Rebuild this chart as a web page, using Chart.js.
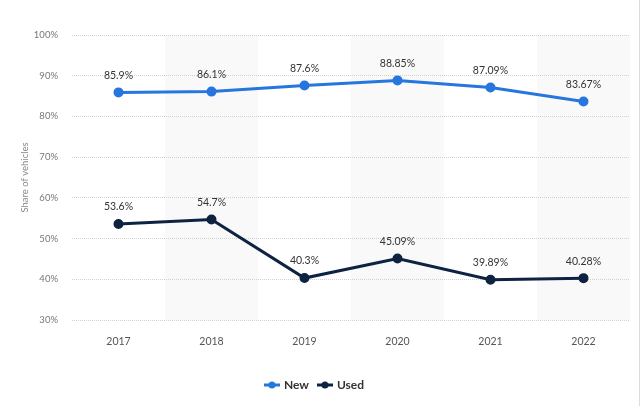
<!DOCTYPE html>
<html>
<head>
<meta charset="utf-8">
<script src="https://cdn.jsdelivr.net/npm/chart.js@4"></script>
<style>
  html, body { margin: 0; padding: 0; background: #fff; }
  #wrap { width: 639px; height: 406px; border-right: 1px solid #dcdcdc; }
</style>
</head>
<body>
<div id="wrap"><canvas id="lineChart" width="639" height="406"></canvas></div>
<script>
const years = ['2017', '2018', '2019', '2020', '2021', '2022'];
const newShare = [85.9, 86.1, 87.6, 88.85, 87.09, 83.67];
const usedShare = [53.6, 54.7, 40.3, 45.09, 39.89, 40.28];
const newLabels = ['85.9%', '86.1%', '87.6%', '88.85%', '87.09%', '83.67%'];
const usedLabels = ['53.6%', '54.7%', '40.3%', '45.09%', '39.89%', '40.28%'];

const FONT = 'Lato, "Open Sans", sans-serif';
const BLUE = '#2776de';
const NAVY = '#0e2341';

// little line-with-dot marker for the legend
function legendMarker(color) {
    const c = document.createElement('canvas');
    c.width = 16; c.height = 8;
    const g = c.getContext('2d');
    g.strokeStyle = color;
    g.lineWidth = 3;
    g.beginPath(); g.moveTo(0, 4); g.lineTo(16, 4); g.stroke();
    g.fillStyle = color;
    g.beginPath(); g.arc(8, 4, 3.5, 0, Math.PI * 2); g.fill();
    return c;
}

// shaded bands behind every second year
const bandsPlugin = {
    id: 'bands',
    beforeDraw(chart) {
        const { ctx, chartArea, scales: { x } } = chart;
        const step = x.width / years.length;
        ctx.save();
        ctx.fillStyle = '#f9f9f9';
        years.forEach((y, i) => {
            if (i % 2 === 1) {
                const cx = x.getPixelForValue(i);
                ctx.fillRect(cx - step / 2, chartArea.top, step, chartArea.bottom - chartArea.top);
            }
        });
        ctx.restore();
    }
};

// value labels above the points
const valueLabels = {
    id: 'valueLabels',
    afterDatasetsDraw(chart) {
        const ctx = chart.ctx;
        const texts = [newLabels, usedLabels];
        ctx.save();
        ctx.font = '10.5px ' + FONT;
        ctx.fillStyle = '#333';
        ctx.textAlign = 'center';
        ctx.textBaseline = 'middle';
        chart.data.datasets.forEach((ds, d) => {
            chart.getDatasetMeta(d).data.forEach((pt, i) => {
                ctx.fillText(texts[d][i], pt.x, pt.y - 17);
            });
        });
        ctx.restore();
    }
};

const ctx = document.getElementById('lineChart').getContext('2d');

new Chart(ctx, {
    type: 'line',
    data: {
        labels: years,
        datasets: [{
            label: 'New',
            data: newShare,
            borderColor: BLUE,
            backgroundColor: BLUE,
            borderWidth: 3,
            pointRadius: 3.5,
            pointHoverRadius: 3.5,
            tension: 0
        }, {
            label: 'Used',
            data: usedShare,
            borderColor: NAVY,
            backgroundColor: NAVY,
            borderWidth: 3,
            pointRadius: 3.5,
            pointHoverRadius: 3.5,
            tension: 0
        }]
    },
    options: {
        responsive: false,
        animation: false,
        layout: { padding: { left: 0, right: 9, top: 35, bottom: 5 } },
        plugins: {
            tooltip: { enabled: false },
            legend: {
                position: 'bottom',
                labels: {
                    usePointStyle: true,
                    color: '#333',
                    font: { family: FONT, size: 12, weight: 'bold' },
                    padding: 10,
                    generateLabels(chart) {
                        return chart.data.datasets.map((ds, i) => ({
                            text: ds.label,
                            pointStyle: legendMarker(ds.borderColor),
                            fillStyle: ds.borderColor,
                            strokeStyle: ds.borderColor,
                            lineWidth: 0,
                            fontColor: '#333',
                            hidden: false,
                            datasetIndex: i
                        }));
                    }
                }
            }
        },
        scales: {
            x: {
                offset: true,
                grid: { display: false },
                border: { display: false },
                ticks: { color: '#555', font: { family: FONT, size: 10.5 }, padding: 7 },
                afterFit(scale) { scale.height = 49; }
            },
            y: {
                min: 30,
                max: 100,
                border: { display: false, dash: [1, 1] },
                grid: { color: '#d2d2d2', lineWidth: 1, drawTicks: false },
                ticks: {
                    stepSize: 10,
                    color: '#777',
                    padding: 14,
                    font: { family: FONT, size: 9.5 },
                    callback: v => v + '%'
                },
                title: {
                    display: true,
                    text: 'Share of vehicles',
                    color: '#888',
                    font: { family: FONT, size: 9.5 },
                    padding: { top: 19, bottom: 0 }
                },
                afterFit(scale) { scale.width = 72; }
            }
        }
    },
    plugins: [bandsPlugin, valueLabels]
});
</script>
</body>
</html>
